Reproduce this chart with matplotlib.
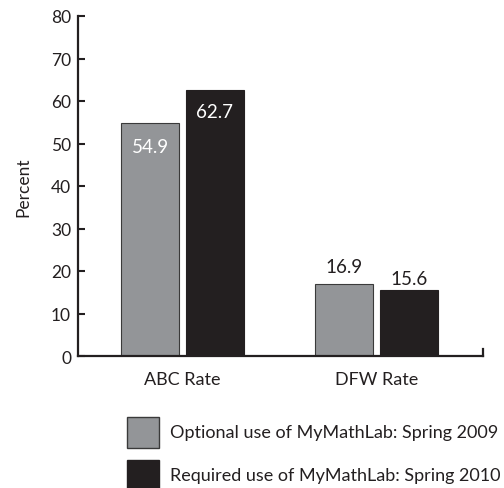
import matplotlib
matplotlib.use("Agg")
import matplotlib.pyplot as plt
from matplotlib.patches import Rectangle
import numpy as np

plt.rcParams['font.family'] = ['Lato', 'DejaVu Sans']

categories = ["ABC Rate", "DFW Rate"]
series_names = ["Optional use of MyMathLab: Spring 2009",
                "Required use of MyMathLab: Spring 2010"]
optional_2009 = [54.9, 16.9]
required_2010 = [62.7, 15.6]
colors = ["#939598", "#231f20"]
yticks = [0, 10, 20, 30, 40, 50, 60, 70, 80]

fig = plt.figure(figsize=(5.04, 4.89), dpi=100)
ax = fig.add_axes([78/504, 1-357/489, (483-78)/504, (357-17)/489])

x = np.arange(len(categories))
w = 0.299
off = 0.166
b1 = ax.bar(x - off, optional_2009, w, color=colors[0], edgecolor="#3a3a3a", linewidth=0.8, zorder=2)
b2 = ax.bar(x + off, required_2010, w, color=colors[1], edgecolor=colors[1], linewidth=0.8, zorder=2)

ax.set_xlim(-0.539, 1.549)
ax.set_ylim(0, 80)
ax.set_yticks(yticks)
ax.set_xticks(x)
ax.set_xticklabels(categories, fontsize=13)
ax.tick_params(axis='x', length=0, pad=11, colors="#231f20")
ax.tick_params(axis='y', direction='in', length=5, width=1.5, labelsize=12.5, pad=5, colors="#231f20")
for s in ["top", "right"]:
    ax.spines[s].set_visible(False)
for s in ["left", "bottom"]:
    ax.spines[s].set_linewidth(1.6)
    ax.spines[s].set_color("#231f20")
ax.set_ylabel("Percent", fontsize=12.5, labelpad=14, color="#231f20")
# right end cap
ax.plot([1.549, 1.549], [0, 1.6], color="#231f20", lw=1.6, clip_on=False)

# value labels
for i, v in enumerate(optional_2009):
    if i == 0:
        ax.annotate(f"{v}", (x[i] - off, v), xytext=(0, -17), textcoords="offset points",
                    ha="center", va="center", color="white", fontsize=13.5)
    else:
        ax.annotate(f"{v}", (x[i] - off, v), xytext=(0, 13), textcoords="offset points",
                    ha="center", va="center", color="#231f20", fontsize=13.5)
for i, v in enumerate(required_2010):
    if i == 0:
        ax.annotate(f"{v}", (x[i] + off, v), xytext=(0, -16), textcoords="offset points",
                    ha="center", va="center", color="white", fontsize=13.5)
    else:
        ax.annotate(f"{v}", (x[i] + off, v), xytext=(0, 8), textcoords="offset points",
                    ha="center", va="center", color="#231f20", fontsize=13.5)

# legend
rows_y = [433, 476]
for yc, name, c, ec in zip(rows_y, series_names, colors, ["#3a3a3a", colors[1]]):
    fig.add_artist(Rectangle((127/504, 1-(yc+16)/489), 32/504, 31/489,
                             transform=fig.transFigure, facecolor=c, edgecolor=ec, lw=1.0))
    fig.text(170/504, 1-yc/489, name, ha="left", va="center", fontsize=13, color="#231f20")

fig.savefig("out.png", dpi=100)
